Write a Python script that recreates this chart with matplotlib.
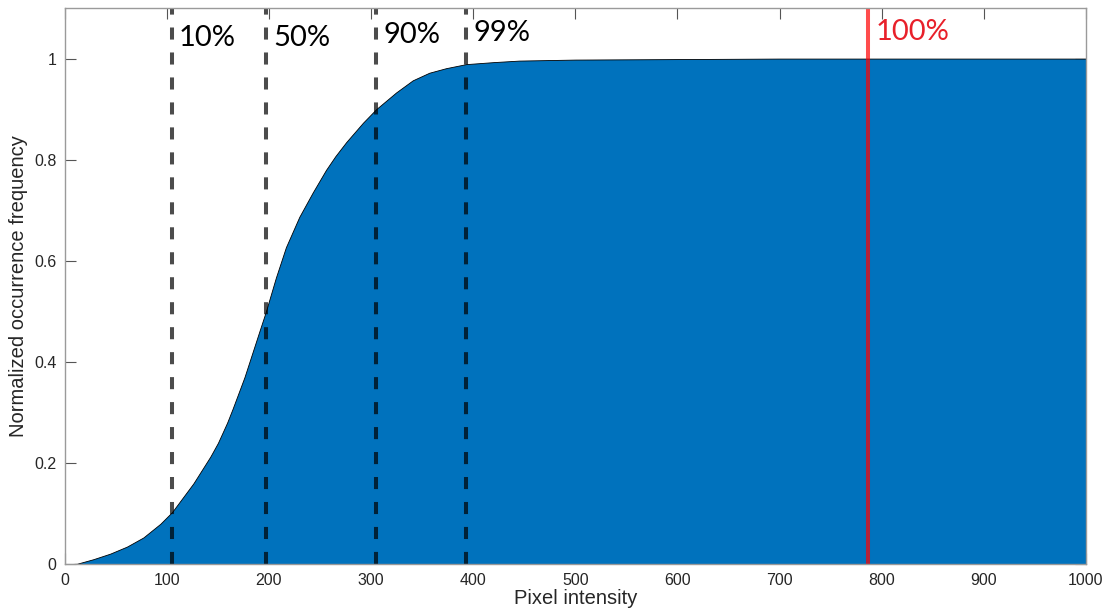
import matplotlib.pyplot as plt
import numpy as np

# cumulative occurrence curve
intensity = [0, 12, 28, 44.5, 61, 77, 93.6, 105, 126, 142.6, 150, 159, 164.3, 176,
             190.5, 197, 206.8, 216.6, 229.7, 242.8, 255.9, 265, 275.7, 292, 305, 324.5,
             340.8, 357, 373.4, 393, 420, 445, 500, 600, 700, 1000]
frequency = [0, 0.001, 0.01, 0.021, 0.035, 0.053, 0.08, 0.103, 0.16, 0.213, 0.24, 0.28,
             0.307, 0.37, 0.46, 0.5, 0.567, 0.627, 0.687, 0.735, 0.78, 0.807, 0.835, 0.873,
             0.9, 0.933, 0.957, 0.972, 0.981, 0.989, 0.993, 0.996, 0.998, 0.999, 1.0, 1.0]

percentile_x = [105, 197, 305, 393]
percentile_labels = ['10%', '50%', '90%', '99%']
label_y = [1.041, 1.041, 1.047, 1.05]
max_x = 787
max_label = '100%'

fig = plt.figure(figsize=(11.16, 6.16), dpi=100)
ax = fig.add_axes([0.058, 0.084, 0.915, 0.903])

ax.fill_between(intensity, frequency, color='#0072BD', edgecolor='black', linewidth=0.6, zorder=2)

for xv, lab, ly in zip(percentile_x, percentile_labels, label_y):
    ax.axvline(xv, color='black', alpha=0.7, linewidth=2.9, linestyle=(0, (3.0, 3.2)), zorder=3)
    ax.text(xv + 7, ly, lab, fontsize=21, family='Lato', color='black', va='center', ha='left')

ax.axvline(max_x, color='red', alpha=0.7, linewidth=2.9, zorder=3)
ax.text(max_x + 7, 1.052, max_label, fontsize=21, family='Lato', color='#e8202a', va='center', ha='left')

ax.set(xlim=(0, 1000), ylim=(0, 1.1))
ax.set_xticks(np.arange(0, 1001, 100))
ax.set_yticks([0, 0.2, 0.4, 0.6, 0.8, 1])
ax.set_yticklabels(['0', '0.2', '0.4', '0.6', '0.8', '1'])
ax.tick_params(direction='in', length=8, width=0.8, color='#555555', labelcolor='#262626',
               labelsize=11.5, top=True, right=True, pad=6)
for lab in ax.get_xticklabels() + ax.get_yticklabels():
    lab.set_family('Liberation Sans')
for s in ax.spines.values():
    s.set_color('#9a9a9a')
    s.set_linewidth(1.0)
    s.set_zorder(4)

ax.set_xlabel('Pixel intensity', fontsize=14.5, family='Liberation Sans', color='#262626', labelpad=1)
ax.set_ylabel('Normalized occurrence frequency', fontsize=14.5, family='Liberation Sans',
              color='#262626', labelpad=4)

fig.savefig('out.png', dpi=100)
